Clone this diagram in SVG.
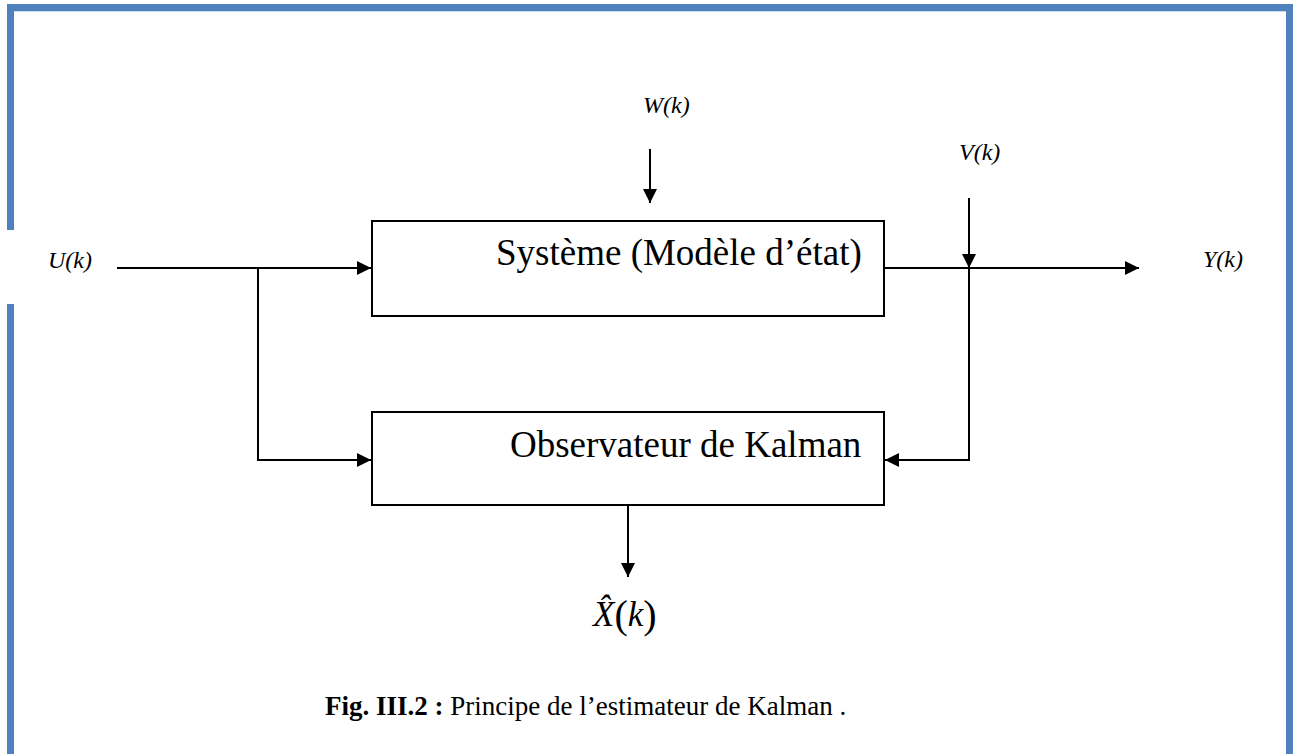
<svg xmlns="http://www.w3.org/2000/svg" width="1295" height="754" viewBox="0 0 1295 754">
  <style>
    .page { fill: #4f81bd; }
    .box { fill: #ffffff; stroke: #000000; stroke-width: 2; }
    .label { font-family: "Liberation Serif", "Times New Roman", serif; font-size: 37px; fill: #000000; }
    .sig { font-family: "Liberation Serif", "Times New Roman", serif; font-size: 24px; font-style: italic; fill: #000000; }
    .est { font-family: "Liberation Serif", "Times New Roman", serif; font-size: 35px; fill: #000000; }
    .wire { fill: none; stroke: #000000; stroke-width: 2; }
    .caption { font-family: "Liberation Serif", "Times New Roman", serif; font-size: 27px; fill: #000000; }
  </style>
  <defs>
    <marker id="arrow" markerUnits="userSpaceOnUse" markerWidth="14" markerHeight="14" refX="14" refY="7" orient="auto">
      <path d="M0,0 L14,7 L0,14 z" fill="#000000"/>
    </marker>
  </defs>

  <rect width="1295" height="754" fill="#ffffff"/>

  <!-- page border -->
  <g id="page-border">
    <rect class="page" x="7" y="4" width="1286" height="7"/>
    <rect x="14" y="11" width="1272" height="1" fill="#c6d9f1"/>
    <rect class="page" x="7" y="4" width="7" height="226"/>
    <rect class="page" x="7" y="304" width="7" height="450"/>
    <rect class="page" x="1286" y="4" width="7" height="750"/>
  </g>

  <!-- blocks -->
  <g id="systeme">
    <rect class="box" x="372" y="221" width="512" height="95"/>
    <text class="label" x="496" y="265">Système (Modèle d’état)</text>
  </g>
  <g id="observateur">
    <rect class="box" x="372" y="412" width="512" height="93"/>
    <text class="label" x="510" y="457">Observateur de Kalman</text>
  </g>

  <!-- signals -->
  <g id="signals">
    <text class="sig" x="48" y="268">U(k)</text>
    <text class="sig" x="643" y="113">W(k)</text>
    <text class="sig" x="959" y="160">V(k)</text>
    <text class="sig" x="1203" y="267">Y(k)</text>
    <text id="x-hat" class="est" x="593" y="626"><tspan font-style="italic">X̂</tspan><tspan font-size="40" dy="2">(</tspan><tspan font-style="italic" dy="-2">k</tspan><tspan font-size="40" dy="2">)</tspan></text>
  </g>

  <!-- connectors -->
  <g id="connectors">
    <line class="wire" x1="117" y1="268" x2="371" y2="268" marker-end="url(#arrow)"/>
    <polyline class="wire" points="258,268 258,460 371,460" marker-end="url(#arrow)"/>
    <line class="wire" x1="650" y1="149" x2="650" y2="203" marker-end="url(#arrow)"/>
    <line class="wire" x1="884" y1="268" x2="1139" y2="268" marker-end="url(#arrow)"/>
    <line class="wire" x1="969" y1="198" x2="969" y2="268" marker-end="url(#arrow)"/>
    <polyline class="wire" points="969,268 969,460 885,460" marker-end="url(#arrow)"/>
    <line class="wire" x1="628" y1="505" x2="628" y2="577" marker-end="url(#arrow)"/>
  </g>

  <!-- caption -->
  <text class="caption" x="325" y="715"><tspan font-weight="bold">Fig. III.2 :</tspan> Principe de l’estimateur de Kalman .</text>
</svg>
